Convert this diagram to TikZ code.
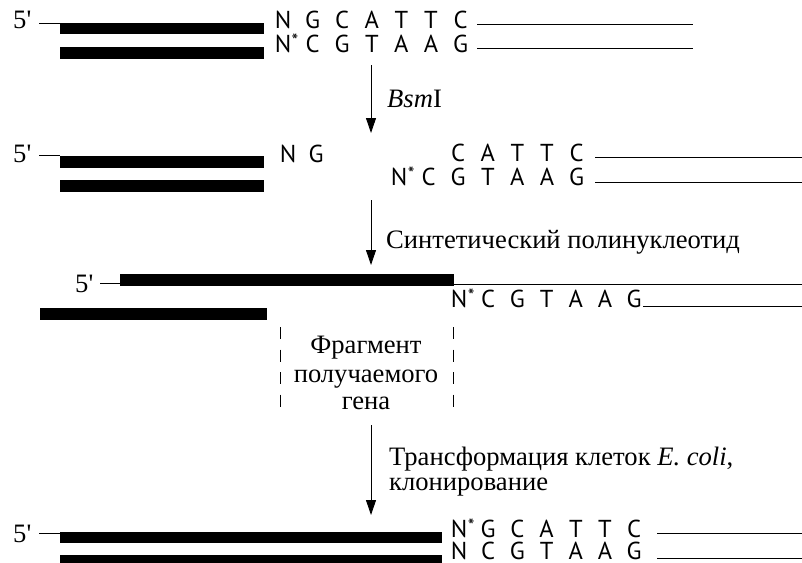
\documentclass[tikz,border=0pt]{standalone}
\usepackage{fontspec}
\setmainfont{Liberation Serif}
\newfontfamily\seqfont{PT Sans}
\usetikzlibrary{arrows.meta}
\newcommand\Nst{N\rlap{\kern0.5pt\fontsize{19}{19}\selectfont\raisebox{4.5pt}{*}}}
\begin{document}
\begin{tikzpicture}[x=1pt,y=-1pt,
 thinline/.style={line width=0.9pt},
 seq/.style={font=\seqfont\fontsize{24.5}{24.5}\selectfont, anchor=base, inner sep=0pt},
 lbl/.style={font=\fontsize{26.6}{28}\selectfont, anchor=base west, inner sep=0pt},
 ctr/.style={font=\fontsize{26.6}{28}\selectfont, anchor=base, inner sep=0pt},
 arr/.style={line width=0.9pt, -{Triangle[length=15pt,width=10pt]}},
 cutline/.style={line width=0.9pt, dash pattern=on 12pt off 10.5pt}]
\useasboundingbox (0,0) rectangle (802,562);

% ---------- row 1 ----------
\node[lbl] (p1) at (13,28) {5\textquotesingle};
\draw[thinline] (39,23.5) -- (60,23.5);
\fill (60,23) rectangle (264,34);
\fill (60,47) rectangle (264,59);
\foreach \ch [count=\i from 0] in {N,G,C,A,T,T,C}
  \node[seq] (ra\i) at (283+\i*29.6,28) {\ch};
\foreach \ch [count=\i from 0] in {\Nst,C,G,T,A,A,G}
  \node[seq] (rb\i) at (283+\i*29.6,52) {\ch};
\draw[thinline] (477,24) -- (693,24);
\draw[thinline] (477,48) -- (693,48);

% ---------- arrow 1 ----------
\coordinate (a1s) at (371,65);
\coordinate (a1e) at (371,133);
\draw[arr] (a1s) -- (a1e);
\node[lbl] (bsm) at (387,107) {\textit{Bsm}I};

% ---------- row 2 ----------
\node[lbl] (p2) at (13,162) {5\textquotesingle};
\draw[thinline] (39,155.5) -- (60,155.5);
\fill (60,156) rectangle (264,168);
\fill (60,180) rectangle (264,192);
\node[seq] (ng1) at (288,162) {N};
\node[seq] (ng2) at (316,162) {G};
\foreach \ch [count=\i from 2] in {C,A,T,T,C}
  \node[seq] (rc\i) at (399+\i*29.6,161) {\ch};
\foreach \ch [count=\i from 0] in {\Nst,C,G,T,A,A,G}
  \node[seq] (rd\i) at (399+\i*29.6,185) {\ch};
\draw[thinline] (595,157) -- (802,157);
\draw[thinline] (595,182) -- (802,182);

% ---------- arrow 2 ----------
\coordinate (a2s) at (371,200);
\coordinate (a2e) at (371,265);
\draw[arr] (a2s) -- (a2e);
\node[lbl] (synt) at (386,248) {Синтетический полинуклеотид};

% ---------- row 3 ----------
\node[lbl] (p3) at (75,292) {5\textquotesingle};
\draw[thinline] (100,283.5) -- (120,283.5);
\fill (120,274) rectangle (454,286);
\draw[thinline] (454,284) -- (802,284);
\fill (40,308) rectangle (267,320);
\foreach \ch [count=\i from 0] in {\Nst,C,G,T,A,A,G}
  \node[seq] (re\i) at (459+\i*29.2,307) {\ch};
\draw[thinline] (643,306) -- (802,306);
\draw[cutline] (280,327) -- (280,410);
\draw[cutline] (453,327) -- (453,410);
\node[ctr] (fr1) at (366,353) {Фрагмент};
\node[ctr] (fr2) at (366,382) {получаемого};
\node[ctr] (fr3) at (366,409) {гена};

% ---------- arrow 3 ----------
\coordinate (a3s) at (371,425);
\coordinate (a3e) at (371,515);
\draw[arr] (a3s) -- (a3e);
\node[lbl] (tr1) at (389,465) {Трансформация клеток \textit{E. coli},};
\node[lbl] (tr2) at (389,490) {клонирование};

% ---------- row 4 ----------
\node[lbl] (p4) at (13,542) {5\textquotesingle};
\draw[thinline] (39,533) -- (60,533);
\fill (60,532) rectangle (442,543);
\fill (60,555) rectangle (442,567);
\foreach \ch [count=\i from 0] in {\Nst,G,C,A,T,T,C}
  \node[seq] (rf\i) at (459+\i*29.2,537) {\ch};
\foreach \ch [count=\i from 0] in {N,C,G,T,A,A,G}
  \node[seq] (rg\i) at (459+\i*29.2,559.5) {\ch};
\draw[thinline] (657,533) -- (802,533);
\draw[thinline] (657,558) -- (802,558);
\end{tikzpicture}
\end{document}
